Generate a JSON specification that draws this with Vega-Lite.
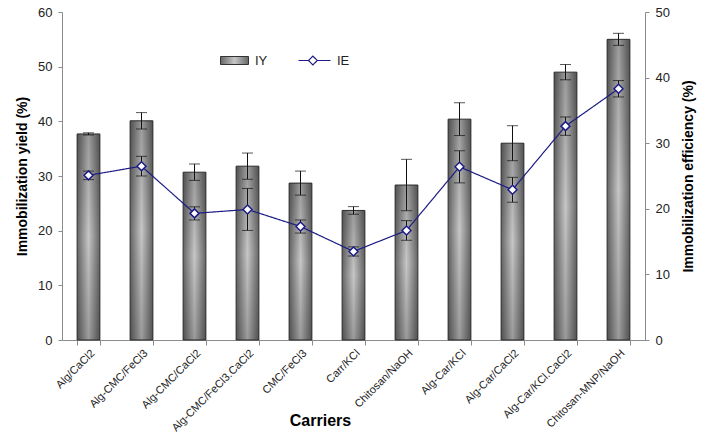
{
  "$schema": "https://vega.github.io/schema/vega-lite/v6.json",
  "width": 583,
  "height": 328,
  "autosize": {"type": "none"},
  "padding": {"left": 62, "top": 12, "right": 80, "bottom": 108},
  "background": "white",
  "config": {
    "view": {"stroke": null},
    "font": "Liberation Sans",
    "axis": {"grid": false, "domainColor": "#8c8c8c", "tickColor": "#8c8c8c", "labelColor": "#222222", "titleColor": "#000000", "labelFont": "Liberation Sans", "titleFont": "Liberation Sans"},
    "legend": {"labelFont": "Liberation Sans", "labelFontSize": 13, "labelColor": "#222222"}
  },
  "data": {
    "values": [
      {"cat": "Alg/CaCl2", "IY": 37.7, "IYerr": 0.2, "IE": 25.1, "IEerr": 0.65},
      {"cat": "Alg-CMC/FeCl3", "IY": 40.1, "IYerr": 1.5, "IE": 26.5, "IEerr": 1.5},
      {"cat": "Alg-CMC/CaCl2", "IY": 30.7, "IYerr": 1.5, "IE": 19.3, "IEerr": 1.0},
      {"cat": "Alg-CMC/FeCl3.CaCl2", "IY": 31.8, "IYerr": 2.4, "IE": 19.9, "IEerr": 3.2},
      {"cat": "CMC/FeCl3", "IY": 28.7, "IYerr": 2.2, "IE": 17.3, "IEerr": 1.0},
      {"cat": "Carr/KCl", "IY": 23.7, "IYerr": 0.7, "IE": 13.5, "IEerr": 0.7},
      {"cat": "Chitosan/NaOH", "IY": 28.35, "IYerr": 4.7, "IE": 16.7, "IEerr": 1.5},
      {"cat": "Alg-Car/KCl", "IY": 40.4, "IYerr": 3.0, "IE": 26.4, "IEerr": 2.45},
      {"cat": "Alg-Car/CaCl2", "IY": 36.0, "IYerr": 3.2, "IE": 22.9, "IEerr": 1.9},
      {"cat": "Alg-Car/KCl.CaCl2", "IY": 49.0, "IYerr": 1.4, "IE": 32.6, "IEerr": 1.4},
      {"cat": "Chitosan-MNP/NaOH", "IY": 55.0, "IYerr": 1.1, "IE": 38.3, "IEerr": 1.25}
    ]
  },
  "encoding": {
    "x": {
      "field": "cat", "type": "nominal", "sort": null,
      "scale": {"paddingInner": 0.57, "paddingOuter": 0.285},
      "axis": {
        "title": "Carriers", "titleFontSize": 16, "titleFontWeight": "bold",
        "titleX": 258, "titleY": 80, "titleBaseline": "middle",
        "labelAngle": -45, "labelFontSize": 11, "tickBand": "extent", "tickSize": 5, "labelPadding": 2
      }
    }
  },
  "layer": [
    {
      "layer": [
        {
          "mark": {
            "type": "bar",
            "strokeWidth": 1,
            "color": {"gradient": "linear", "x1": 0, "x2": 1, "y1": 0, "y2": 0,
              "stops": [{"offset": 0, "color": "#666666"}, {"offset": 0.5, "color": "#c6c6c6"}, {"offset": 1, "color": "#666666"}]}
          },
          "encoding": {
            "y": {"field": "IY", "type": "quantitative", "scale": {"domain": [0, 60], "nice": false},
              "axis": {"title": "Immobilization yield (%)", "titleFontSize": 14, "titleFontWeight": "bold", "values": [0, 10, 20, 30, 40, 50, 60], "labelFontSize": 13, "tickSize": 4, "labelPadding": 6,
                "titleAngle": -90, "titleX": -40, "titleY": 164, "titleBaseline": "middle", "titleAlign": "center"}},
            "stroke": {
              "datum": "IY",
              "scale": {"domain": ["IY"], "range": ["#333333"]},
              "legend": {
                "orient": "none", "legendX": 156, "legendY": 42, "title": null,
                "symbolType": "M-1,-1H6V1H-1Z", "symbolSize": 64, "symbolStrokeWidth": 1,
                "symbolFillColor": "#a8a8a8", "labelOffset": 24
              }
            }
          }
        },
        {
          "mark": {
            "type": "bar",
            "strokeWidth": 0,
            "color": {"gradient": "linear", "x1": 0, "x2": 0, "y1": 0, "y2": 1,
              "stops": [{"offset": 0, "color": "rgba(0,0,0,0.22)"}, {"offset": 0.5, "color": "rgba(0,0,0,0)"}, {"offset": 1, "color": "rgba(0,0,0,0.22)"}]}
          },
          "encoding": {
            "y": {"field": "IY", "type": "quantitative", "title": "Immobilization yield (%)"}
          }
        },
        {
          "mark": {"type": "errorbar", "color": "#111111", "ticks": {"size": 11, "color": "#111111"}, "thickness": 1},
          "encoding": {
            "y": {"field": "IY", "type": "quantitative", "title": "Immobilization yield (%)"},
            "yError": {"field": "IYerr"}
          }
        }
      ]
    },
    {
      "layer": [
        {
          "mark": {"type": "errorbar", "color": "#111111", "ticks": {"size": 11, "color": "#111111"}, "thickness": 1},
          "encoding": {
            "y": {"field": "IE", "type": "quantitative", "title": "Immobilization efficiency (%)", "scale": {"domain": [0, 50], "nice": false},
              "axis": {"orient": "right", "title": "Immobilization efficiency (%)", "titleFontSize": 14, "titleFontWeight": "bold", "values": [0, 10, 20, 30, 40, 50], "labelFontSize": 13, "tickSize": 4, "labelPadding": 6,
                "titleAngle": -90, "titleX": 43, "titleY": 164, "titleBaseline": "middle", "titleAlign": "center"}},
            "yError": {"field": "IEerr"}
          }
        },
        {
          "mark": {"type": "line", "color": "#1c1c84", "strokeWidth": 1.2},
          "encoding": {
            "y": {"field": "IE", "type": "quantitative", "title": "Immobilization efficiency (%)"},
            "strokeDash": {
              "datum": "IE",
              "scale": {"domain": ["IE"], "range": [[1, 0]]},
              "legend": {
                "orient": "none", "legendX": 234, "legendY": 42, "title": null,
                "symbolType": "M-1,0H1.5M3.7,0H7M2.6,-1.1L3.7,0L2.6,1.1L1.5,0Z", "symbolSize": 64,
                "symbolStrokeWidth": 1.2, "symbolStrokeColor": "#1c1c84", "symbolFillColor": "white", "labelOffset": 28
              }
            }
          }
        },
        {
          "mark": {"type": "point", "shape": "diamond", "filled": true, "fill": "white", "stroke": "#1c1c84", "strokeWidth": 1.5, "size": 80, "opacity": 1},
          "encoding": {
            "y": {"field": "IE", "type": "quantitative", "title": "Immobilization efficiency (%)"}
          }
        }
      ]
    }
  ],
  "resolve": {"scale": {"y": "independent"}}
}
